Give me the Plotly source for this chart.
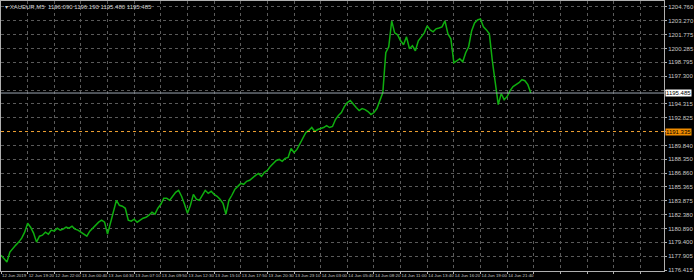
import plotly.graph_objects as go

# --- data (XAUEUR, M5) ---
close_prices = [
    1178.02, 1177.70, 1177.27, 1178.35, 1178.78, 1179.10, 1179.42, 1179.85, 1180.49, 1181.46,
    1181.03, 1180.39, 1179.42, 1180.06, 1180.17, 1180.49, 1180.28, 1180.71, 1180.60, 1180.92,
    1180.71, 1180.82, 1181.03, 1180.92, 1181.14, 1180.82, 1180.71, 1180.49, 1180.28, 1180.06,
    1180.60, 1180.92, 1181.35, 1181.57, 1181.78, 1181.57, 1180.28, 1181.57, 1182.86, 1183.93,
    1183.39, 1183.29, 1183.07, 1181.78, 1181.68, 1181.89, 1181.57, 1181.78, 1182.00, 1182.10,
    1182.32, 1182.64, 1182.43, 1183.07, 1183.50, 1184.14, 1184.14, 1183.93, 1184.36, 1184.79,
    1185.00, 1184.36, 1183.50, 1182.53, 1183.39, 1184.57, 1184.04, 1183.93, 1184.47, 1185.00,
    1184.68, 1184.90, 1184.57, 1184.36, 1184.04, 1183.61, 1182.43, 1183.93, 1184.47, 1185.11,
    1185.43, 1185.75, 1185.65, 1185.97, 1186.08, 1186.40, 1186.61, 1186.83, 1186.51, 1186.94,
    1187.15, 1187.58, 1187.90, 1188.22, 1188.33, 1188.12, 1188.44, 1188.55, 1189.51, 1189.08,
    1189.41, 1190.05, 1190.69, 1191.23, 1191.45, 1191.77, 1191.34, 1191.55, 1191.66, 1191.77,
    1191.98, 1191.77, 1191.88, 1192.63, 1193.06, 1193.38, 1194.02, 1194.45, 1194.67, 1194.35,
    1193.92, 1193.59, 1193.81, 1193.70, 1193.49, 1193.16, 1193.38, 1193.81, 1194.67, 1195.53,
    1199.82, 1200.47, 1203.26, 1201.97, 1201.75, 1201.11, 1200.68, 1201.54, 1200.25, 1200.57,
    1200.04, 1201.11, 1201.54, 1201.97, 1202.72, 1202.29, 1202.08, 1202.40, 1202.50, 1202.61,
    1203.26, 1201.86, 1201.32, 1198.75, 1198.96, 1199.18, 1198.85, 1199.82, 1200.47, 1202.18,
    1203.04, 1203.36, 1203.47, 1202.61, 1202.29, 1201.86, 1198.96, 1196.28, 1194.24, 1195.42,
    1194.77, 1195.10, 1195.74, 1196.17, 1196.39, 1196.60, 1196.92, 1196.81, 1196.39, 1195.49,
]
bar_index = list(range(len(close_prices)))

time_labels = [
    "12 Jun 2019", "12 Jun 19:20", "12 Jun 22:00", "13 Jun 00:40", "13 Jun 04:30",
    "13 Jun 07:10", "13 Jun 09:50", "13 Jun 12:30", "13 Jun 15:10", "13 Jun 17:50",
    "13 Jun 20:30", "13 Jun 23:10", "14 Jun 03:00", "14 Jun 05:40", "14 Jun 08:20",
    "14 Jun 11:00", "14 Jun 13:40", "14 Jun 16:20", "14 Jun 19:00", "14 Jun 21:40",
]
price_ticks = [
    1204.760, 1203.270, 1201.775, 1200.285, 1198.795, 1197.300, 1195.810, 1194.315,
    1192.825, 1191.335, 1189.840, 1188.350, 1186.860, 1185.365, 1183.875, 1182.380,
    1180.890, 1179.400, 1177.905, 1176.415,
]
bid_price = 1195.485
level_price = 1191.335
title_text = "\u25be XAUEUR,M5  1196.090 1196.190 1195.480 1195.485"

# --- figure ---
fig = go.Figure()
fig.add_trace(go.Scatter(
    x=bar_index, y=close_prices, mode="lines",
    line=dict(color="#0fae0f", width=1.5), hoverinfo="skip", showlegend=False,
))

step = 9
tick_x = [i * step for i in range(25)]
tick_t = [time_labels[i] if i < len(time_labels) else "" for i in range(25)]

# price labels hidden behind the bid / level boxes (as in the terminal)
price_text = []
for v in price_ticks:
    if abs(v - bid_price) < 0.6 or abs(v - level_price) < 0.6:
        price_text.append("")
    else:
        price_text.append(f"{v:.3f}")

fig.add_shape(type="line", xref="paper", x0=0, x1=1, yref="y", y0=bid_price, y1=bid_price,
              line=dict(color="#9aa4b0", width=1))
fig.add_shape(type="line", xref="paper", x0=0, x1=1, yref="y", y0=level_price, y1=level_price,
              line=dict(color="#f0a030", width=1, dash="dot"))

fig.add_annotation(xref="paper", yref="y", x=1, y=bid_price, xanchor="left", yanchor="middle",
                   text=f"{bid_price:.3f}", showarrow=False, bgcolor="#ffffff",
                   font=dict(color="#000000", size=6, family="Liberation Sans"),
                   borderpad=0, xshift=1)
fig.add_annotation(xref="paper", yref="y", x=1, y=level_price, xanchor="left", yanchor="middle",
                   text=f"{level_price:.3f}", showarrow=False, bgcolor="#f08c00",
                   font=dict(color="#000000", size=6, family="Liberation Sans"),
                   borderpad=0, xshift=1)
fig.add_annotation(xref="paper", yref="paper", x=0, y=1, xanchor="left", yanchor="top",
                   text=title_text, showarrow=False, xshift=2, yshift=-1,
                   font=dict(color="#d0d0d0", size=6, family="Liberation Sans"))

fig.update_layout(
    width=694, height=280,
    margin=dict(l=0, r=22, t=0, b=9),
    paper_bgcolor="#000000", plot_bgcolor="#000000",
    xaxis=dict(
        range=[0, 224], tickmode="array", tickvals=tick_x, ticktext=tick_t,
        tickangle=0,
        showgrid=True, gridcolor="#5a5a5a", griddash="dot", gridwidth=1,
        zeroline=False, showline=True, linecolor="#b0b0b0", linewidth=1, mirror=True,
        ticks="outside", ticklen=2, tickcolor="#b0b0b0",
        ticklabelposition="outside right",
        tickfont=dict(color="#c8c8c8", size=4.4, family="Liberation Sans"),
    ),
    yaxis=dict(
        range=[1176.31, 1205.40], side="right", tickmode="array",
        tickvals=price_ticks, ticktext=price_text,
        showgrid=True, gridcolor="#5a5a5a", griddash="dot", gridwidth=1,
        zeroline=False, showline=True, linecolor="#b0b0b0", linewidth=1, mirror=True,
        ticks="outside", ticklen=2, tickcolor="#b0b0b0",
        tickfont=dict(color="#c8c8c8", size=6, family="Liberation Sans"),
    ),
)

fig.write_html("out.html")
